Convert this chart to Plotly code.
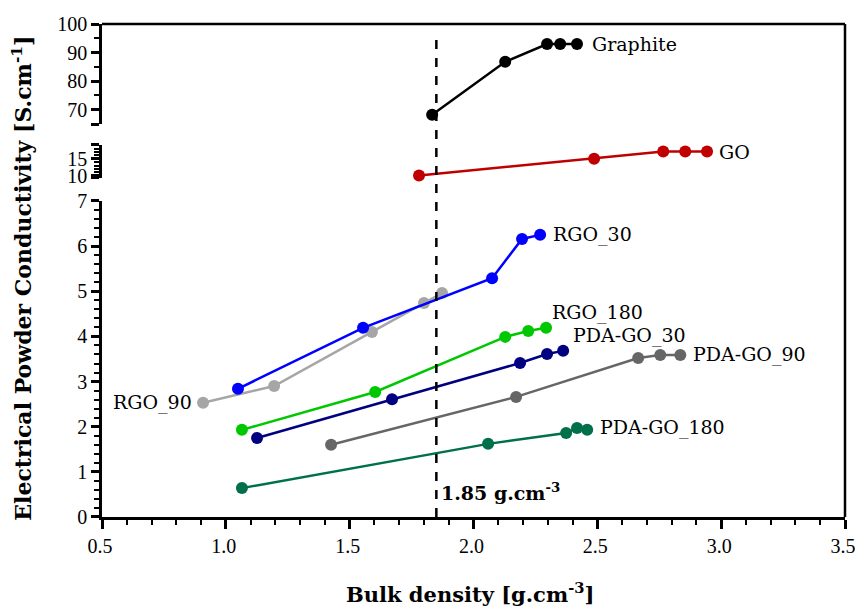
import plotly.graph_objects as go

# ---------------- data ----------------
graphite_x = [1.833, 2.128, 2.297, 2.350, 2.418]
graphite_y = [68.3, 86.8, 93.0, 93.0, 93.0]

go_x = [1.780, 2.487, 2.766, 2.855, 2.943]
go_y = [10.1, 15.0, 17.1, 17.1, 17.1]

rgo30_x = [1.049, 1.554, 2.075, 2.196, 2.269]
rgo30_y = [2.84, 4.19, 5.29, 6.16, 6.25]

rgo90_x = [0.908, 1.195, 1.590, 1.800, 1.873]
rgo90_y = [2.53, 2.90, 4.10, 4.74, 4.96]

rgo180_x = [1.065, 1.603, 2.128, 2.221, 2.293]
rgo180_y = [1.93, 2.77, 3.99, 4.12, 4.19]

pda30_x = [1.126, 1.671, 2.188, 2.297, 2.362]
pda30_y = [1.75, 2.61, 3.41, 3.61, 3.68]

pda90_x = [1.425, 2.172, 2.665, 2.754, 2.835]
pda90_y = [1.60, 2.66, 3.52, 3.59, 3.59]

pda180_x = [1.065, 2.059, 2.374, 2.418, 2.459]
pda180_y = [0.64, 1.62, 1.86, 1.97, 1.93]

ref_density = 1.85

x_ticks = [0.5, 1.0, 1.5, 2.0, 2.5, 3.0, 3.5]
y_low_ticks = [0, 1, 2, 3, 4, 5, 6, 7]
y_mid_ticks = [9.4, 10, 15, 19.1]
y_mid_text = ["", "10", "15", ""]
y_top_ticks = [65, 70, 80, 90, 100]
y_top_text = ["", "70", "80", "90", "100"]

FONT = "DejaVu Serif"
TICKFONT = dict(family="Liberation Serif", size=20, color="black")

series = [
    ("Graphite", graphite_x, graphite_y, "#000000", "y3"),
    ("GO", go_x, go_y, "#c00000", "y2"),
    ("RGO_90", rgo90_x, rgo90_y, "#a6a6a6", "y"),
    ("RGO_30", rgo30_x, rgo30_y, "#0000ff", "y"),
    ("RGO_180", rgo180_x, rgo180_y, "#00c800", "y"),
    ("PDA-GO_30", pda30_x, pda30_y, "#000080", "y"),
    ("PDA-GO_90", pda90_x, pda90_y, "#666666", "y"),
    ("PDA-GO_180", pda180_x, pda180_y, "#00704a", "y"),
]

fig = go.Figure()
for name, xs, ys, col, ax in series:
    fig.add_trace(go.Scatter(
        x=xs, y=ys, name=name, mode="lines+markers", yaxis=ax,
        line=dict(color=col, width=2.5),
        marker=dict(color=col, size=12),
        showlegend=False, cliponaxis=False,
    ))

# labels next to series
labels = [
    ("Graphite", 2.471, 93.0, "y3", "left"),
    ("GO", 2.984, 17.1, "y2", "left"),
    ("RGO_30", 2.313, 6.25, "y", "left"),
    ("RGO_180", 2.309, 4.54, "y", "left"),
    ("PDA-GO_30", 2.394, 4.03, "y", "left"),
    ("PDA-GO_90", 2.879, 3.59, "y", "left"),
    ("PDA-GO_180", 2.503, 1.99, "y", "left"),
    ("RGO_90", 0.872, 2.53, "y", "right"),
]
for txt, x, y, ax, anc in labels:
    fig.add_annotation(x=x, y=y, xref="x", yref=ax, text=txt, showarrow=False,
                       xanchor=anc, yanchor="middle",
                       font=dict(family=FONT, size=19, color="black"))

# dashed reference line
fig.add_shape(type="line", xref="x", yref="paper", x0=ref_density, x1=ref_density,
              y0=0, y1=0.984, line=dict(color="black", width=2.5, dash="dash"),
              layer="above")
fig.add_annotation(x=ref_density, y=0.86, xref="x", yref="y",
                   text="<b>1.85 g.cm<sup>-3</sup></b>", showarrow=False,
                   xanchor="left", yanchor="top", xshift=3,
                   font=dict(family=FONT, size=19, color="black"))

# frame: top and right
fig.add_shape(type="line", xref="paper", yref="paper", x0=0, x1=1, y0=1, y1=1,
              line=dict(color="black", width=2.5))
fig.add_shape(type="line", xref="paper", yref="paper", x0=1, x1=1, y0=0, y1=1,
              line=dict(color="black", width=2.5))

# axis titles
fig.add_annotation(x=0.495, y=-0.154, xref="paper", yref="paper",
                   text="<b>Bulk density [g.cm<sup>-3</sup>]</b>", showarrow=False,
                   xanchor="center", yanchor="middle",
                   font=dict(family=FONT, size=21, color="black"))
fig.add_annotation(x=-0.108, y=0.485, xref="paper", yref="paper", textangle=-90,
                   text="<b>Electrical Powder Conductivity [S.cm<sup>-1</sup>]</b>",
                   showarrow=False, xanchor="center", yanchor="middle",
                   font=dict(family=FONT, size=22, color="black"))

common_y = dict(showline=True, linecolor="black", linewidth=2.5, ticks="outside",
                ticklen=8, tickwidth=2.5, tickcolor="black", showgrid=False,
                zeroline=False, tickfont=TICKFONT, anchor="x", automargin=False,
                ticklabeloverflow="allow")

fig.update_layout(
    width=855, height=608,
    margin=dict(l=102, r=10, t=24, b=91, autoexpand=False),
    paper_bgcolor="white", plot_bgcolor="white",
    xaxis=dict(range=[0.5, 3.5], tickvals=x_ticks,
               ticktext=[f"{v:.1f}" for v in x_ticks],
               showline=True, linecolor="black", linewidth=2.5, ticks="outside",
               ticklen=9, tickwidth=2.5, tickcolor="black", showgrid=False,
               zeroline=False, tickfont=TICKFONT, anchor="y", automargin=False,
               ticklabeloverflow="allow", ticklabelshift=-2,
               minor=dict(dtick=0.1, tick0=0.5, ticklen=5, tickwidth=2,
                          tickcolor="black", ticks="outside", showgrid=False)),
    yaxis=dict(domain=[0, 0.641], range=[0, 7], tickvals=y_low_ticks,
               minor=dict(dtick=0.2, tick0=0, ticklen=5, tickwidth=2,
                          tickcolor="black", ticks="outside", showgrid=False),
               **common_y),
    yaxis2=dict(domain=[0.688, 0.755], range=[9.4, 19.1], tickvals=y_mid_ticks,
                ticktext=y_mid_text,
                minor=dict(dtick=1, tick0=10, ticklen=5, tickwidth=2,
                           tickcolor="black", ticks="outside", showgrid=False),
                **common_y),
    yaxis3=dict(domain=[0.797, 1], range=[65, 100], tickvals=y_top_ticks,
                ticktext=y_top_text,
                minor=dict(dtick=5, tick0=65, ticklen=5, tickwidth=2,
                           tickcolor="black", ticks="outside", showgrid=False),
                **common_y),
)

fig.write_html("out.html", config={"displayModeBar": False},
               post_script="document.body.style.margin='0';document.body.style.overflow='hidden';")
